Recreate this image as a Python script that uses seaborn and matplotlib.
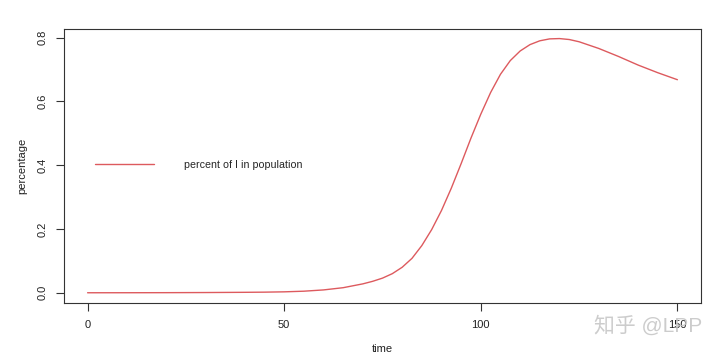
import numpy as np
import pandas as pd
import seaborn as sns
import matplotlib.pyplot as plt

# share of infected (I) in the population
time = [0, 10, 20, 30, 40, 45, 50, 55, 60, 65, 70, 72.5, 75, 77.5, 80, 82.5,
        85, 87.5, 90, 92.5, 95, 97.5, 100, 102.5, 105, 107.5, 110, 112.5,
        115, 117.5, 120, 122.5, 125, 130, 135, 140, 145, 150]
percent_I = [0.0001, 0.0002, 0.0004, 0.0008, 0.0015, 0.002, 0.003, 0.005,
             0.009, 0.016, 0.028, 0.036, 0.046, 0.060, 0.080, 0.108,
             0.148, 0.198, 0.258, 0.328, 0.405, 0.485, 0.560, 0.628,
             0.685, 0.728, 0.758, 0.778, 0.790, 0.796, 0.797, 0.794,
             0.787, 0.766, 0.741, 0.714, 0.690, 0.668]
series_name = "percent of I in population"
x_ticks = [0, 50, 100, 150]
y_ticks = [0.0, 0.2, 0.4, 0.6, 0.8]

sns.set_style("ticks")
plt.rcParams['font.family'] = ['Liberation Sans', 'Noto Sans CJK SC', 'DejaVu Sans']

df = pd.DataFrame({"time": time, "percentage": percent_I})

fig = plt.figure(figsize=(7.2, 3.56), dpi=100)
ax = fig.add_axes([64 / 720, 53 / 356, 637 / 720, 274 / 356])

sns.lineplot(data=df, x="time", y="percentage", ax=ax, color="#dd5a5e",
             linewidth=1.0, label=series_name)

ax.set_xlim(-6, 156)
ax.set_ylim(-0.032, 0.827)
ax.set_xticks(x_ticks)
ax.set_xticklabels([str(t) for t in x_ticks])
ax.set_yticks(y_ticks)
ax.set_yticklabels([f"{v:.1f}" for v in y_ticks], rotation=90, va="center")
ax.tick_params(axis="both", length=6, width=0.8, color="#333333",
               labelsize=8, colors="#222222", pad=6)
for s in ax.spines.values():
    s.set_visible(True)
    s.set_color("#333333")
    s.set_linewidth(0.8)

ax.set_xlabel("time", fontsize=8, color="#222222", labelpad=10)
ax.set_ylabel("percentage", fontsize=8, color="#222222", labelpad=7)

ax.legend(loc="center left", bbox_to_anchor=(95 / 720, (356 - 165) / 356),
          bbox_transform=fig.transFigure, frameon=False, borderpad=0,
          borderaxespad=0, handlelength=5.5, handletextpad=2.8, fontsize=7.7)

# watermark
fig.text(648 / 720, (356 - 325) / 356, "知乎 @LPP", fontsize=15,
         color="#c4c4c4", alpha=0.85, ha="center", va="center")

fig.savefig("out.png", dpi=100)
